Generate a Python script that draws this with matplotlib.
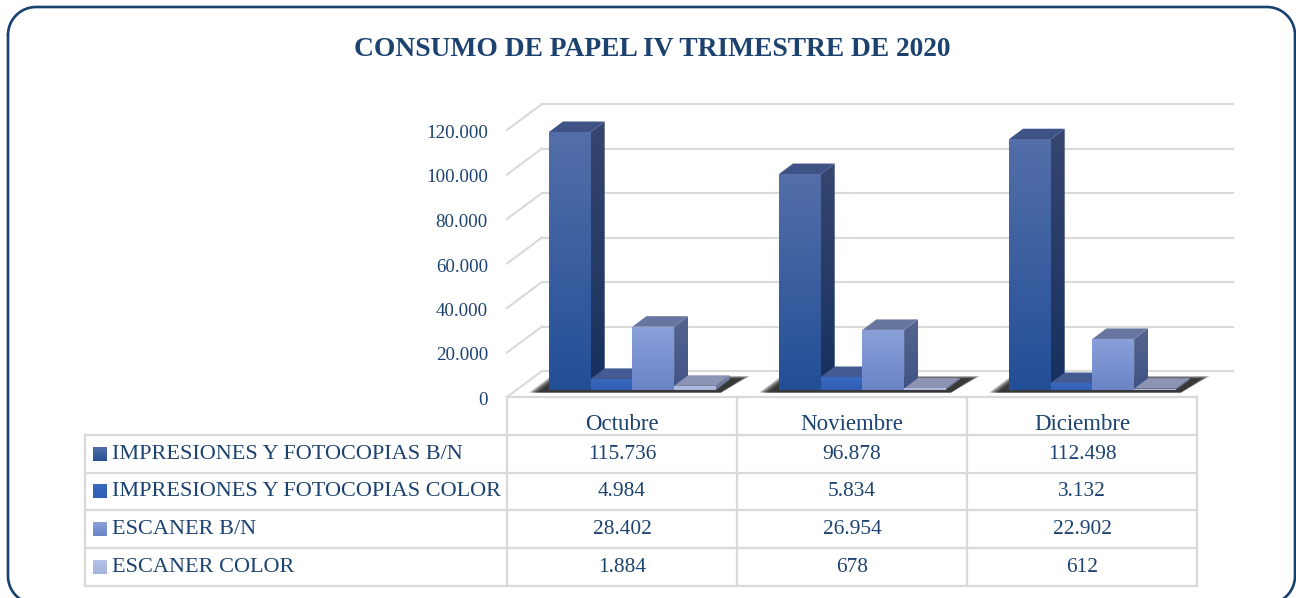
import numpy as np
import matplotlib
matplotlib.use('Agg')
import matplotlib.pyplot as plt
from matplotlib.colors import LinearSegmentedColormap
from matplotlib.patches import Polygon

meses = ['Octubre', 'Noviembre', 'Diciembre']
series = ['IMPRESIONES Y FOTOCOPIAS B/N', 'IMPRESIONES Y FOTOCOPIAS COLOR', 'ESCANER B/N', 'ESCANER COLOR']
imp_bn = [115736, 96878, 112498]
imp_color = [4984, 5834, 3132]
esc_bn = [28402, 26954, 22902]
esc_color = [1884, 678, 612]
valores = [imp_bn, imp_color, esc_bn, esc_color]
etiquetas = [['115.736', '96.878', '112.498'], ['4.984', '5.834', '3.132'],
             ['28.402', '26.954', '22.902'], ['1.884', '678', '612']]
yticks = [0, 20000, 40000, 60000, 80000, 100000, 120000]
ylabels = ['0', '20.000', '40.000', '60.000', '80.000', '100.000', '120.000']

AZUL = '#1c4270'
GRIS = '#d9d9d9'
W, H = 1296, 598
# colores: frente arriba, frente abajo, lado arriba, lado abajo, tapa
colores = [('#536ea8', '#234f97', '#36466f', '#17305f', '#3e5285'),
           ('#3a6ac0', '#2f5fb5', '#2c4a86', '#223f78', '#445a92'),
           ('#8aa0da', '#6a84c6', '#55658f', '#3f5385', '#67769f'),
           ('#b4c0e4', '#a6b4dc', '#7a83a8', '#6c7699', '#8d93b3')]

plt.rcParams['font.family'] = ['Liberation Serif', 'DejaVu Serif']
fig = plt.figure(figsize=(W / 100, H / 100), dpi=100)

# ejes en pixeles para marco y tabla
pix = fig.add_axes([0, 0, 1, 1], zorder=3)
pix.set_xlim(0, W)
pix.set_ylim(H, 0)
pix.axis('off')

# ejes de datos: x=0 en px 507, una categoria = 230 px, y=0 en px 390
PX_X = 230.0
PX_Y = 267.5 / 120000
ax = fig.add_axes([0, 0, 1, 1], zorder=2)
ax.patch.set_alpha(0)
xlim = (-507 / PX_X, (W - 507) / PX_X)
ylim = (-(H - 390) / PX_Y, 390 / PX_Y)
ax.axis('off')

def dx(p):
    return p / PX_X

def dy(p):
    return p / PX_Y

def degradado(axe, verts, c1, c2, z):
    # rellena un poligono con degradado vertical
    verts = np.array(verts)
    x0, x1 = verts[:, 0].min(), verts[:, 0].max()
    y0, y1 = verts[:, 1].min(), verts[:, 1].max()
    cm = LinearSegmentedColormap.from_list('g', [c2, c1])
    im = axe.imshow(np.linspace(0, 1, 64).reshape(-1, 1), cmap=cm, origin='lower',
                    extent=(x0, x1, y0, y1), aspect='auto', zorder=z, interpolation='bilinear')
    poly = Polygon(verts, closed=True, transform=axe.transData, fc='none', ec='none')
    axe.add_patch(poly)
    im.set_clip_path(poly)

# paredes y rejilla
piso = dy(-7)
pared_x, pared_y = dx(35), dy(26)
for v in yticks:
    y = piso + v * (267.0 / 267.5)
    ax.plot([0, pared_x], [y, y + pared_y], color=GRIS, lw=1.5, zorder=1)
    ax.plot([pared_x, dx(1233 - 507)], [y + pared_y, y + pared_y], color=GRIS, lw=1.5, zorder=1)

# barras
ancho = 41.7 / PX_X
inicio = 42 / PX_X
fondo_x, fondo_y = dx(14), dy(10.5)
for i in range(len(meses)):
    x_base = i + inicio
    # sombra sobre el piso, difusa hacia los bordes
    for s in range(10):
        sombra = [(x_base + dx(-20 + s), dy(-2.5)), (x_base + dx(172), dy(-2.5)),
                  (x_base + dx(201 - s), dy(14 - s * 0.3)), (x_base + dx(2 + s * 0.6), dy(14 - s * 0.3))]
        ax.add_patch(Polygon(sombra, closed=True, fc='#111111', ec='none', alpha=0.16, zorder=2))
    for j, v in enumerate(valores):
        c = colores[j]
        x0 = x_base + j * ancho
        x1 = x0 + ancho
        h = v[i]
        degradado(ax, [(x1, 0), (x1 + fondo_x, fondo_y), (x1 + fondo_x, h + fondo_y), (x1, h)], c[2], c[3], 3 + j * 0.1)
        ax.add_patch(Polygon([(x0, h), (x1, h), (x1 + fondo_x, h + fondo_y), (x0 + fondo_x, h + fondo_y)],
                             closed=True, fc=c[4], ec='none', zorder=3 + j * 0.1))
        degradado(ax, [(x0, 0), (x1, 0), (x1, h), (x0, h)], c[0], c[1], 3.05 + j * 0.1)

ax.set_xlim(*xlim)
ax.set_ylim(*ylim)

# etiquetas eje y
for v, t in zip(yticks, ylabels):
    ax.text(dx(488 - 507), piso + v * (267.0 / 267.5) - dy(3.5), t, ha='right', va='center',
            fontsize=13.6, color=AZUL, zorder=5)

# tabla
filas = [397, 435, 472.5, 510, 548, 586]
cols = [507, 737, 967, 1197]
pix.plot([84.5, 84.5], [435, 586], color=GRIS, lw=1.6)
for x in cols:
    pix.plot([x, x], [397, 586], color=GRIS, lw=1.6)
pix.plot([507, 1197], [397, 397], color=GRIS, lw=1.6)
for y in filas[1:]:
    pix.plot([84.5, 1197], [y, y], color=GRIS, lw=1.6)
for i, m in enumerate(meses):
    pix.text((cols[i] + cols[i + 1]) / 2, 424, m, ha='center', va='center', fontsize=16.5, color=AZUL)
for j, s in enumerate(series):
    yc = (filas[j + 1] + filas[j + 2]) / 2
    c = colores[j]
    degradado(pix, [(93, yc - 7), (106.5, yc - 7), (106.5, yc + 7), (93, yc + 7)], c[1], c[0], 4)
    pix.text(112, yc + 0.5, s, ha='left', va='center', fontsize=16, color=AZUL)
    for i in range(3):
        pix.text((cols[i] + cols[i + 1]) / 2, yc + 0.5, etiquetas[j][i], ha='center', va='center', fontsize=15.4, color=AZUL)
pix.set_xlim(0, W)
pix.set_ylim(H, 0)

# marco redondeado y titulo
r = 28
ang = np.linspace(0, np.pi / 2, 20)
izq, der, arr, aba = 8, 1295, 7, 604
mx = np.concatenate([izq + r - r * np.cos(ang), der - r + r * np.sin(ang),
                     der - r + r * np.cos(ang), izq + r - r * np.sin(ang), [izq]])
my = np.concatenate([arr + r - r * np.sin(ang), arr + r - r * np.cos(ang),
                     aba - r + r * np.sin(ang), aba - r + r * np.cos(ang), [arr + r]])
pix.plot(mx, my, color='#17406f', lw=1.9, solid_capstyle='round')
pix.text(652.5, 49, 'CONSUMO DE PAPEL IV TRIMESTRE DE 2020', ha='center', va='center', fontsize=19.8,
         fontweight='bold', color=AZUL)

fig.savefig('out.png', dpi=100, facecolor='white')
